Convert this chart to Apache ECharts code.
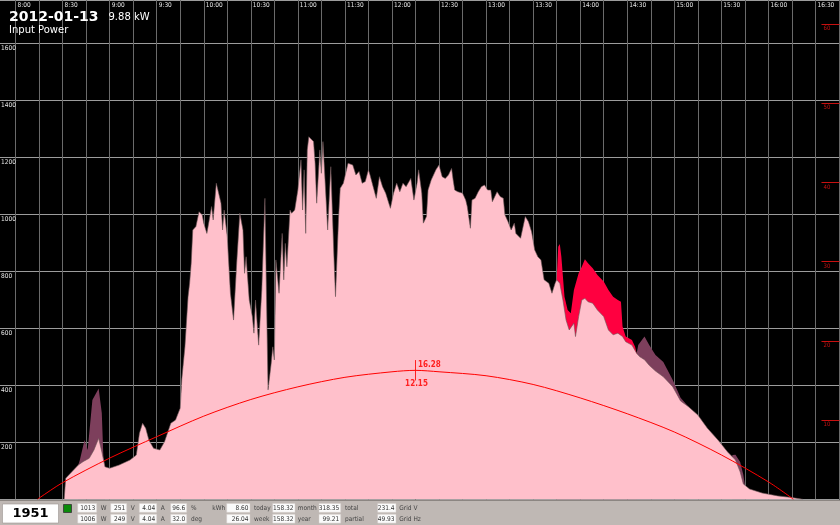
<!DOCTYPE html>
<html>
<head>
<meta charset="utf-8">
<script src="https://cdn.jsdelivr.net/npm/echarts@6/dist/echarts.min.js"></script>
<style>
html,body{margin:0;padding:0;background:#000;overflow:hidden;width:840px;height:525px;}
#chart{position:absolute;left:-8px;top:0;width:850px;height:525px;}
</style>
</head>
<body>
<div id="chart"></div>
<script>
// ---------- DATA ----------
const chartDate = "2012-01-13";
const chartPower = "9.88 kW";
const chartTitle = "Input Power";

const powerTimes = ["8:31","8:32","8:37","8:40","8:43","8:47","8:50","8:53","8:55","8:57","9:00","9:06","9:13","9:17","9:19","9:21","9:23","9:25","9:28","9:32","9:35","9:39","9:42","9:45","9:46","9:48","9:50","9:51","9:52","9:53","9:55","9:57","9:59","10:00","10:02","10:05","10:06","10:08","10:11","10:12","10:13","10:15","10:17","10:19","10:21","10:23","10:25","10:26","10:27","10:29","10:31","10:32","10:33","10:35","10:37","10:39","10:40","10:41","10:43","10:44","10:45","10:46","10:48","10:50","10:51","10:52","10:53","10:55","10:56","10:58","11:00","11:02","11:03","11:04","11:05","11:06","11:07","11:10","11:11","11:12","11:14","11:15","11:16","11:18","11:19","11:21","11:23","11:24","11:26","11:27","11:29","11:30","11:32","11:35","11:37","11:39","11:41","11:43","11:45","11:46","11:48","11:50","11:52","11:54","11:56","11:59","12:01","12:03","12:05","12:07","12:09","12:12","12:14","12:16","12:17","12:19","12:20","12:22","12:23","12:25","12:28","12:30","12:32","12:34","12:36","12:38","12:39","12:40","12:42","12:45","12:47","12:48","12:50","12:51","12:53","12:55","12:57","12:59","13:01","13:03","13:04","13:07","13:09","13:11","13:12","13:14","13:16","13:18","13:19","13:22","13:25","13:27","13:29","13:31","13:33","13:35","13:37","13:40","13:42","13:44","13:45","13:47","13:49","13:51","13:53","13:56","13:57","13:59","14:01","14:03","14:05","14:08","14:11","14:15","14:18","14:21","14:24","14:27","14:29","14:33","14:36","14:38","14:41","14:44","14:48","14:53","14:59","15:04","15:09","15:15","15:21","15:28","15:34","15:39","15:42","15:44","15:48","15:56","16:06","16:15","16:22"];
const powerValues = [0,74,103,120,132,144,173,214,167,114,109,120,138,155,232,267,249,208,179,173,202,267,278,320,420,535,711,758,828,945,957,1009,998,969,933,1027,980,1109,1039,945,1015,921,723,629,828,1004,945,793,851,699,641,583,699,541,734,1056,711,384,477,535,489,840,723,933,770,898,816,1015,1004,1015,1085,1191,1015,1156,933,1226,1272,1255,1179,1039,1226,1144,1255,1050,945,1167,851,711,992,1091,1109,1103,1179,1173,1138,1150,1109,1115,1156,1138,1097,1056,1132,1097,1074,1021,1074,1109,1079,1109,1097,1126,1050,1109,1156,1074,969,992,1085,1120,1156,1173,1132,1126,1138,1161,1120,1085,1079,1074,1050,1027,951,1050,1056,1079,1097,1103,1085,1085,1044,1079,1062,1056,998,974,945,969,933,916,992,974,939,875,851,840,770,758,723,758,770,758,699,629,594,618,571,641,699,705,693,688,664,641,594,577,583,571,553,541,512,500,490,470,450,430,395,345,325,296,250,207,166,138,96,54,36,22,12,6,0];

// dark (maroon) excess segments, null = gap
const maroonTimes = ["8:40","8:41","8:44","8:46","8:49","8:53","8:55","8:56","8:57","8:58","14:36","14:37","14:41","14:44","14:48","14:53","14:59","15:04","15:09","15:10","15:37","15:39","15:42","15:44","15:45"];
const maroonValues = [120,138,208,173,348,389,303,150,114,null,512,541,571,541,506,482,419,356,325,null,155,156,131,86,50];

// bright red excess segment
const redTimes = ["13:45","13:46","13:47","13:48","13:50","13:52","13:54","13:56","13:59","14:01","14:03","14:05","14:08","14:11","14:15","14:18","14:21","14:24","14:26","14:27","14:29","14:33","14:35","14:36"];
const redValues = [770,886,896,851,711,664,653,734,793,816,842,828,811,787,764,734,711,699,693,606,571,559,535,512];

// red curve (right axis)
const sunTimes = ["8:14","8:15","8:30","9:00","9:30","10:00","10:30","11:00","11:30","12:00","12:15","12:30","13:00","13:30","14:00","14:30","15:00","15:30","16:00","16:16"];
const sunValues = [0,0.15,2.1,5.2,7.9,10.5,12.6,14.2,15.4,16.1,16.28,16.1,15.6,14.5,12.8,10.8,8.5,5.6,2.2,0];
const sunPeakTime = "12:15";
const sunPeakValue = 16.28;
const sunPeakLabels = ["16.28","12.15"];

const rightTicks = [10,20,30,40,50,60];

// status bar
const counterText = "1951";
const liveRow1 = ["1013","251","4.04","96.6"];
const liveUnits1 = ["W","V","A","%"];
const liveRow2 = ["1006","249","4.04","32.0"];
const liveUnits2 = ["W","V","A","deg"];
const energyUnit = "kWh";
const energyRow1 = ["8.60","158.32","318.35","231.4"];
const energyLabels1 = ["today","month","total","Grid V"];
const energyRow2 = ["26.04","158.32","99.21","49.93"];
const energyLabels2 = ["week","year","partial","Grid Hz"];

// ---------- HELPERS ----------
function toMin(s){ const p = s.split(':'); return (+p[0])*60 + (+p[1]); }
function fmt(v){ const h = Math.floor(v/60), m = Math.round(v%60); return h + ':' + (m<10?'0':'') + m; }
function zip(t, v){ return t.map((s,i)=>[toMin(s), v[i]]); }

const narrow = "'Liberation Sans Narrow','DejaVu Sans Condensed',sans-serif";

// ---------- STATUS BAR / TITLE GRAPHICS (page coords, shifted by container offset) ----------
const g = [];
g.push({type:'rect', z:100, shape:{x:0,y:500,width:840,height:25}, style:{fill:'#bfb8b4'}});
g.push({type:'line', z:101, shape:{x1:0,y1:500.5,x2:840,y2:500.5}, style:{stroke:'#8c8682',lineWidth:1}});
g.push({type:'rect', z:101, shape:{x:2.5,y:504,width:56,height:19}, style:{fill:'#fff',stroke:'#9a9490',lineWidth:0.6}});
g.push({type:'text', z:102, x:30.5, y:514, style:{text:counterText, fill:'#000', font:"bold 13px 'DejaVu Sans'", align:'center', verticalAlign:'middle'}});
g.push({type:'rect', z:101, shape:{x:63.5,y:504.5,width:8,height:8}, style:{fill:'#0a8a0a',stroke:'#333',lineWidth:0.8}});

const rowsY = [503.5, 514.3];
const leftCols = [{x:77.7,w:19,ux:100.7},{x:110.7,w:16,ux:130.7},{x:139.3,w:17.4,ux:160.7},{x:170.7,w:16,ux:191}];
const rightCols = [{x:226.7,w:23.3,ux:254},{x:272.7,w:22.3,ux:297.7},{x:319,w:21.7,ux:345},{x:377.7,w:18.3,ux:399.3}];
function addBox(col, y, val, lab){
  g.push({type:'rect', z:101, shape:{x:col.x,y:y,width:col.w,height:8.8}, style:{fill:'#fbfbfb',stroke:'#d6cfcb',lineWidth:0.5}});
  g.push({type:'text', z:102, x:col.x+col.w-1.5, y:y+4.6, style:{text:val, fill:'#333', font:"6.5px "+narrow, align:'right', verticalAlign:'middle'}});
  g.push({type:'text', z:102, x:col.ux, y:y+4.6, style:{text:lab, fill:'#444', font:"6.5px "+narrow, align:'left', verticalAlign:'middle'}});
}
leftCols.forEach((c,i)=>{ addBox(c, rowsY[0], liveRow1[i], liveUnits1[i]); addBox(c, rowsY[1], liveRow2[i], liveUnits2[i]); });
rightCols.forEach((c,i)=>{ addBox(c, rowsY[0], energyRow1[i], energyLabels1[i]); addBox(c, rowsY[1], energyRow2[i], energyLabels2[i]); });
g.push({type:'text', z:102, x:212.3, y:rowsY[0]+4.6, style:{text:energyUnit, fill:'#444', font:"6.5px "+narrow, align:'left', verticalAlign:'middle'}});

// title
g.push({type:'text', z:102, x:9, y:10, style:{text:chartDate, fill:'#fff', font:"bold 14px 'DejaVu Sans'", align:'left', verticalAlign:'top'}});
g.push({type:'text', z:102, x:108.5, y:12, style:{text:chartPower, fill:'#fff', font:"10px 'DejaVu Sans'", align:'left', verticalAlign:'top'}});
g.push({type:'text', z:102, x:9, y:25.3, style:{text:chartTitle, fill:'#fff', font:"10px 'DejaVu Sans'", align:'left', verticalAlign:'top'}});

// ---------- CHART ----------
const chart = echarts.init(document.getElementById('chart'), null, {renderer:'canvas'});
const peakX = toMin(sunPeakTime);
chart.setOption({
  backgroundColor:'#000',
  animation:false,
  grid:{left:0, right:0, top:0, bottom:25.7, containLabel:false},
  xAxis:{
    type:'value', position:'top', min:toMin("7:45"), max:1005.3, interval:15,
    axisLine:{show:false}, axisTick:{show:false},
    splitLine:{show:true, lineStyle:{color:'#6a6a6a', width:1}},
    axisLabel:{inside:true, margin:2, align:'left', verticalAlign:'top', padding:[0,0,0,2],
      color:'#e6e6e6', fontSize:6.5, fontFamily:narrow, showMaxLabel:false, showMinLabel:false,
      formatter:(v)=> (Math.round(v)%30===0 ? fmt(v) : '')}
  },
  yAxis:[
    {type:'value', position:'left', min:0, max:1751.9, interval:200,
      axisLine:{show:false}, axisTick:{show:false},
      splitLine:{show:true, lineStyle:{color:'#9c9c9c', width:1}},
      axisLabel:{inside:true, align:'left', verticalAlign:'top', margin:9, padding:[1.5,0,0,0],
        color:'#e6e6e6', fontSize:6.5, fontFamily:narrow, showMaxLabel:false, showMinLabel:false,
        formatter:(v)=> String(v)}},
    {type:'value', position:'right', min:0, max:63.04, interval:10,
      axisLine:{show:false}, splitLine:{show:false},
      axisTick:{show:true, inside:true, length:18, customValues:rightTicks, lineStyle:{color:'#c81010', width:1}},
      axisLabel:{inside:true, align:'right', verticalAlign:'top', margin:9, padding:[1.5,0,0,0], customValues:rightTicks,
        color:'#c81010', fontSize:6, fontFamily:narrow, formatter:(v)=> String(v)}}
  ],
  series:[
    {type:'line', name:'maroon', z:2, data:zip(maroonTimes, maroonValues), symbol:'none', connectNulls:false,
      lineStyle:{width:0}, areaStyle:{color:'#7d3f5c', opacity:1}},
    {type:'line', name:'red', z:3, data:zip(redTimes, redValues), symbol:'none',
      lineStyle:{width:0}, areaStyle:{color:'#ff0040', opacity:1}},
    {type:'line', name:'power', z:4, data:zip(powerTimes, powerValues), symbol:'none',
      lineStyle:{width:0.6, color:'#6b5558'}, areaStyle:{color:'#ffc0cb', opacity:1}},
    {type:'line', name:'sun', z:5, yAxisIndex:1, data:zip(sunTimes, sunValues), symbol:'none', smooth:0.3,
      lineStyle:{width:1, color:'#ff0000'},
      markPoint:{silent:true, data:[
        {coord:[peakX, sunPeakValue], symbol:'rect', symbolSize:[1,20], itemStyle:{color:'#ff2020'},
          label:{show:true, formatter:sunPeakLabels[0], position:'right', distance:2, offset:[0,-5], color:'#ff2020', fontSize:8, fontFamily:narrow, fontWeight:'bold'}},
        {coord:[peakX, sunPeakValue], symbol:'rect', symbolSize:[1,20], itemStyle:{color:'#ff2020'},
          label:{show:true, formatter:sunPeakLabels[1], position:'bottom', distance:0, offset:[1,0], color:'#ff2020', fontSize:8, fontFamily:narrow, fontWeight:'bold'}}
      ]}}
  ],
  graphic:[{type:'group', x:8, y:0, children:g}]
});
</script>
</body>
</html>
